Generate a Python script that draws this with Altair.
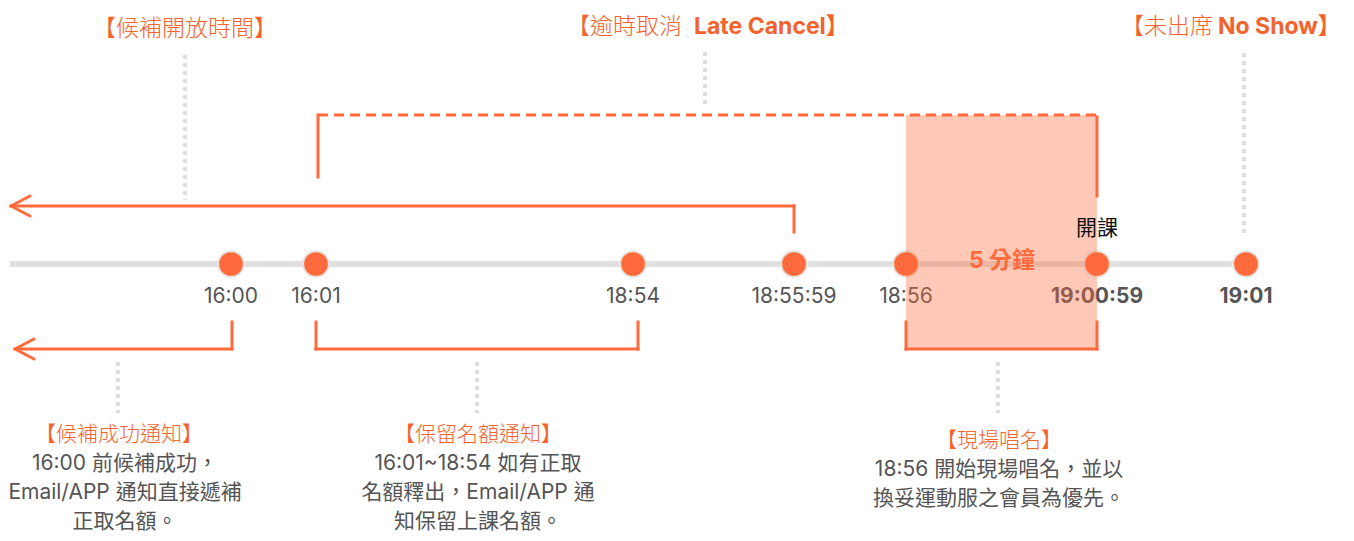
import altair as alt
import pandas as pd

ORANGE = "#FF6A3D"
ORANGE_TXT = "#F4632C"
GRAY_TXT = "#555555"
TRACK = "#E0E0E0"
DOTTED = "#DEDEDE"
RING = "#E9E5DE"
LATIN = "Inter, 'Noto Sans CJK TC', sans-serif"

# ---- timeline events ----
event_labels = ["16:00", "16:01", "18:54", "18:55:59", "18:56", "19:00:59", "19:01"]
event_pos = [231, 316, 633, 794, 906, 1097, 1246]
event_bold = [False, False, False, False, False, True, True]

# ---- top annotations (CJK part, bold latin part, connector x) ----
top_cjk = ["【候補開放時間】", "【逾時取消", "【未出席"]
top_latin = ["", "Late Cancel】", "No Show】"]
top_anchor = [185, 705, 1244]

# ---- bottom annotations ----
desc_titles = ["【候補成功通知】", "【保留名額通知】", "【現場唱名】"]
desc_lines = [
    ["16:00 前候補成功，", "Email/APP 通知直接遞補", "正取名額。"],
    ["16:01~18:54 如有正取", "名額釋出，Email/APP 通", "知保留上課名額。"],
    ["18:56 開始現場唱名，並以", "換妥運動服之會員為優先。"],
]
desc_anchor = [119, 478, 999]
desc_text_anchor = [125, 478, 999]

# ---- spans ----
bracket_spans = [(1, 2), (4, 5)]          # lower brackets between events
late_cancel_span = (1, 5)                  # dashed upper bracket
roll_call_span = (4, 5)                    # shaded 5-minute window
span_label = "5 分鐘"
class_start_label = "開課"

# layout levels (page pixels)
Y_TRACK, Y_LABEL = 264, 297
Y_UP_ARROW, Y_DASH = 206, 115
Y_LOW_TOP, Y_LOW = 322, 349

X0, X1, Y0, Y1 = 8, 1346, 8, 533
xs = alt.Scale(domain=[X0, X1], nice=False, zero=False)
ys = alt.Scale(domain=[Y0, Y1], nice=False, zero=False, reverse=True)
noax = None


def enc_seg(ch):
    return ch.encode(
        x=alt.X("x:Q", scale=xs, axis=noax),
        y=alt.Y("y:Q", scale=ys, axis=noax),
        x2="x2:Q",
        y2="y2:Q",
    )


def enc_pt(ch, **kw):
    return ch.encode(
        x=alt.X("x:Q", scale=xs, axis=noax),
        y=alt.Y("y:Q", scale=ys, axis=noax),
        **kw,
    )


# track
track_df = pd.DataFrame([{"x": 10, "y": Y_TRACK, "x2": event_pos[-1], "y2": Y_TRACK}])
track = enc_seg(alt.Chart(track_df).mark_rule(color=TRACK, strokeWidth=6))

# dotted connectors
dots = []
for i, a in enumerate(top_anchor):
    bottom = [200, 107, 235][i]
    top = [55, 52, 53][i]
    dots.append({"x": a, "y": top, "x2": a, "y2": bottom})
for a in desc_anchor:
    dots.append({"x": a - 1, "y": 362, "x2": a - 1, "y2": 413})
dotted = enc_seg(alt.Chart(pd.DataFrame(dots)).mark_rule(
    color=DOTTED, strokeWidth=4, strokeDash=[4, 4]))

# solid orange segments
segs = []
p_up = event_pos[3]
segs += [
    {"x": p_up, "y": 232, "x2": p_up, "y2": Y_UP_ARROW},
    {"x": p_up, "y": Y_UP_ARROW, "x2": 11, "y2": Y_UP_ARROW},
]
l, r = event_pos[late_cancel_span[0]], event_pos[late_cancel_span[1]]
segs += [
    {"x": l + 2, "y": 177, "x2": l + 2, "y2": Y_DASH},
    {"x": r, "y": Y_DASH + 2, "x2": r, "y2": 196},
]
p0 = event_pos[0] + 1
segs += [
    {"x": p0, "y": Y_LOW_TOP, "x2": p0, "y2": Y_LOW},
    {"x": p0, "y": Y_LOW, "x2": 15, "y2": Y_LOW},
]
for a, b in bracket_spans:
    xa, xb = event_pos[a], event_pos[b]
    if a == 1:
        xb += 5
    segs += [
        {"x": xa, "y": Y_LOW_TOP, "x2": xa, "y2": Y_LOW},
        {"x": xa, "y": Y_LOW, "x2": xb, "y2": Y_LOW},
        {"x": xb, "y": Y_LOW, "x2": xb, "y2": Y_LOW_TOP},
    ]
solid = enc_seg(alt.Chart(pd.DataFrame(segs)).mark_rule(
    color=ORANGE, strokeWidth=3, strokeCap="square"))

# arrow heads
heads = []
for tipx, tipy in [(11, Y_UP_ARROW), (15, Y_LOW)]:
    heads += [
        {"x": tipx, "y": tipy, "x2": tipx + 19, "y2": tipy - 10},
        {"x": tipx, "y": tipy, "x2": tipx + 19, "y2": tipy + 10},
    ]
arrow = enc_seg(alt.Chart(pd.DataFrame(heads)).mark_rule(
    color=ORANGE, strokeWidth=3, strokeCap="round"))

# dashed
dash_df = pd.DataFrame([{"x": l + 2, "y": Y_DASH, "x2": r, "y2": Y_DASH}])
dashed = enc_seg(alt.Chart(dash_df).mark_rule(
    color=ORANGE, strokeWidth=3, strokeDash=[10, 6]))

# circles
ev_df = pd.DataFrame({"x": event_pos, "y": [Y_TRACK] * len(event_pos),
                      "label": event_labels, "bold": event_bold})
circles = enc_pt(alt.Chart(ev_df).mark_point(
    shape="circle", filled=True, size=660, fill=ORANGE, stroke=RING,
    strokeWidth=2, opacity=1))

# time labels
lab_df = ev_df.assign(y=Y_LABEL)
lab_norm = enc_pt(alt.Chart(lab_df[~lab_df.bold]).mark_text(
    font=LATIN, fontSize=21, color=GRAY_TXT, fontWeight=400, baseline="middle"),
    text="label:N")
lab_bold = enc_pt(alt.Chart(lab_df[lab_df.bold]).mark_text(
    font=LATIN, fontSize=21, color=GRAY_TXT, fontWeight="bold", baseline="middle"),
    text="label:N")

# shaded window
ra, rb = event_pos[roll_call_span[0]], event_pos[roll_call_span[1]]
rect_df = pd.DataFrame([{"x": ra, "x2": rb, "y": Y_DASH, "y2": 350}])
shade = enc_seg(alt.Chart(rect_df).mark_rect(color=ORANGE, opacity=0.37))

span_df = pd.DataFrame([{"x": (ra + rb) / 2 + 0.5, "y": 261, "t": span_label}])
span_txt = enc_pt(alt.Chart(span_df).mark_text(
    font=LATIN, fontSize=23, fontWeight="bold", color=ORANGE, baseline="middle"),
    text="t:N")
start_df = pd.DataFrame([{"x": rb, "y": 229, "t": class_start_label}])
start_txt = enc_pt(alt.Chart(start_df).mark_text(
    font="'Noto Sans CJK TC'", fontSize=21, color="#111111", baseline="middle"),
    text="t:N")

# top titles
t_rows_c, t_rows_l, t_rows_r = [], [], []
splits = [None, 682, 1213]
for i in range(3):
    if top_latin[i] == "":
        t_rows_c.append({"x": top_anchor[i], "y": 29, "t": top_cjk[i]})
    else:
        t_rows_r.append({"x": splits[i], "y": 27, "t": top_cjk[i]})
        t_rows_l.append({"x": splits[i] + (12 if i == 1 else 5), "y": 27, "t": top_latin[i]})
top_c = enc_pt(alt.Chart(pd.DataFrame(t_rows_c)).mark_text(
    font="'Noto Sans CJK TC'", fontSize=23, fontWeight=300, color=ORANGE_TXT,
    baseline="middle", align="center"), text="t:N")
top_r = enc_pt(alt.Chart(pd.DataFrame(t_rows_r)).mark_text(
    font="'Noto Sans CJK TC'", fontSize=23, fontWeight=300, color=ORANGE_TXT,
    baseline="middle", align="right"), text="t:N")
top_l = enc_pt(alt.Chart(pd.DataFrame(t_rows_l)).mark_text(
    font=LATIN, fontSize=23, fontWeight="bold", color=ORANGE_TXT,
    baseline="middle", align="left"), text="t:N")

# bottom descriptions
title_rows, line_rows = [], []
for i, (tt, lines) in enumerate(zip(desc_titles, desc_lines)):
    base = 435 if i < 2 else 441
    title_rows.append({"x": desc_anchor[i], "y": base, "t": tt})
    for j, ln in enumerate(lines):
        line_rows.append({"x": desc_text_anchor[i], "y": base + 29 * (j + 1), "t": ln})
d_title = enc_pt(alt.Chart(pd.DataFrame(title_rows)).mark_text(
    font="'Noto Sans CJK TC'", fontSize=21, fontWeight=300, color=ORANGE_TXT,
    baseline="middle"), text="t:N")
d_lines = enc_pt(alt.Chart(pd.DataFrame(line_rows)).mark_text(
    font=LATIN, fontSize=21, fontWeight=400, color=GRAY_TXT,
    baseline="middle"), text="t:N")

chart = alt.layer(
    track, dotted, solid, arrow, dashed, circles, lab_norm, lab_bold,
    shade, span_txt, start_txt, top_c, top_r, top_l, d_title, d_lines,
).properties(
    width=X1 - X0, height=Y1 - Y0, padding=0,
    autosize=alt.AutoSizeParams(type="none"),
).configure_view(stroke=None)

chart.save("out.html", embed_options={"renderer": "svg", "actions": False})
